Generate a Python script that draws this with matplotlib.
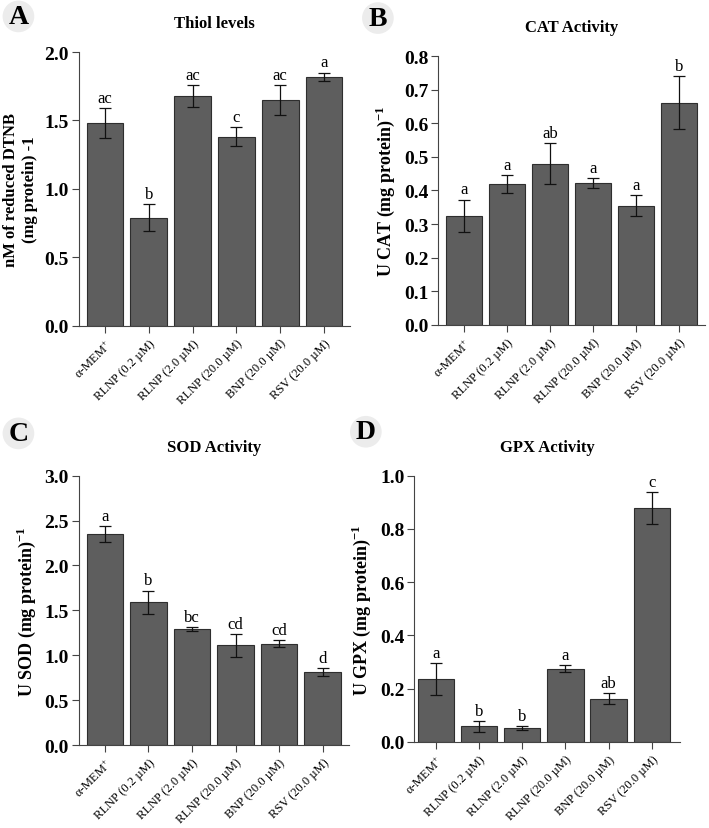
import matplotlib
matplotlib.use('Agg')
import matplotlib.pyplot as plt

plt.rcParams['font.family'] = ['Liberation Serif', 'DejaVu Serif']
plt.rcParams['mathtext.fontset'] = 'custom'
plt.rcParams['mathtext.rm'] = 'Liberation Serif'
plt.rcParams['mathtext.bf'] = 'Liberation Serif:bold'

# groups shared by all four panels
groups = [r'α-MEM$^{+}$', 'RLNP (0.2 µM)', 'RLNP (2.0 µM)', 'RLNP (20.0 µM)',
          'BNP (20.0 µM)', 'RSV (20.0 µM)']

# A - thiol levels
thiol_mean = [1.48, 0.79, 1.68, 1.38, 1.65, 1.82]
thiol_err = [0.11, 0.10, 0.08, 0.07, 0.11, 0.03]
thiol_sig = ['ac', 'b', 'ac', 'c', 'ac', 'a']

# B - CAT activity
cat_mean = [0.325, 0.42, 0.48, 0.422, 0.355, 0.662]
cat_err = [0.048, 0.027, 0.06, 0.015, 0.032, 0.078]
cat_sig = ['a', 'a', 'ab', 'a', 'a', 'b']

# C - SOD activity
sod_mean = [2.35, 1.59, 1.29, 1.11, 1.13, 0.81]
sod_err = [0.09, 0.13, 0.02, 0.13, 0.04, 0.045]
sod_sig = ['a', 'b', 'bc', 'cd', 'cd', 'd']

# D - GPX activity
gpx_mean = [0.235, 0.058, 0.052, 0.275, 0.162, 0.88]
gpx_err = [0.06, 0.02, 0.007, 0.012, 0.02, 0.06]
gpx_sig = ['a', 'b', 'b', 'a', 'ab', 'c']

fig = plt.figure(figsize=(7.09, 8.29), dpi=100)


def panel(rect, mean, err, sig, title, ylabel, ylsize, ymax, ystep, letter, letter_xy, xlim):
    ax = fig.add_axes(rect)
    x = range(len(mean))
    ax.bar(x, mean, width=0.84, color='#5e5e5e', edgecolor='#2e2e2e', linewidth=0.8)
    ax.errorbar(x, mean, yerr=err, fmt='none', ecolor='#111111', elinewidth=0.9,
                capsize=4, capthick=0.9)
    for i in x:
        ax.text(i, mean[i] + err[i] + ymax * 0.008, sig[i], ha='center', va='bottom',
                fontsize=12)
    ax.set_ylim(0, ymax)
    ax.set_xlim(*xlim)
    ticks = [round(k * ystep, 3) for k in range(int(round(ymax / ystep)) + 1)]
    ax.set_yticks(ticks)
    ax.set_yticklabels(['{:.1f}'.format(t) for t in ticks], fontweight='bold', fontsize=14)
    ax.set_xticks(list(x))
    ax.set_xticklabels(groups, rotation=45, ha='right', rotation_mode='anchor', fontsize=9)
    ax.tick_params(axis='both', direction='out', length=5, width=0.8, color='#444444')
    ax.tick_params(axis='x', pad=3)
    ax.tick_params(axis='y', pad=2)
    for s in ['top', 'right']:
        ax.spines[s].set_visible(False)
    for s in ['left', 'bottom']:
        ax.spines[s].set_color('#444444')
        ax.spines[s].set_linewidth(0.8)
    ax.set_ylabel(ylabel, fontweight='bold', fontsize=ylsize, labelpad=5)
    ax.set_title(title, fontweight='bold', fontsize=12, pad=18)
    fig.text(letter_xy[0], letter_xy[1], letter, fontsize=20, fontweight='bold',
             ha='center', va='center',
             bbox=dict(boxstyle='circle,pad=0.12', fc='#ececec', ec='none'))
    return ax


panel([0.111, 0.606, 0.383, 0.330], thiol_mean, thiol_err, thiol_sig, 'Thiol levels',
      'nM of reduced DTNB\n(mg protein) -1', 12, 2.0, 0.5, 'A', (0.026, 0.979),
      (-0.6, 5.6))
panel([0.618, 0.607, 0.376, 0.324], cat_mean, cat_err, cat_sig, 'CAT Activity',
      r'U CAT (mg protein)$^{\mathbf{-1}}$', 13, 0.8, 0.1, 'B', (0.533, 0.977),
      (-0.6, 5.6))
panel([0.111, 0.100, 0.381, 0.325], sod_mean, sod_err, sod_sig, 'SOD Activity',
      r'U SOD (mg protein)$^{\mathbf{-1}}$', 13, 3.0, 0.5, 'C', (0.026, 0.476),
      (-0.6, 5.6))
panel([0.584, 0.104, 0.375, 0.321], gpx_mean, gpx_err, gpx_sig, 'GPX Activity',
      r'U GPX (mg protein)$^{\mathbf{-1}}$', 13, 1.0, 0.2, 'D', (0.516, 0.478),
      (-0.5, 5.65))

fig.savefig('out.png', dpi=100)
